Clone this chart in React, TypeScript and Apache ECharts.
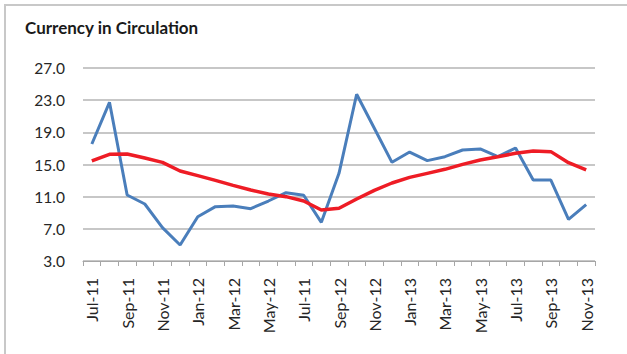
import React, { useEffect, useRef } from "react";
import * as echarts from "echarts";

const categories = [
  "Jul-11", "Aug-11", "Sep-11", "Oct-11", "Nov-11", "Dec-11",
  "Jan-12", "Feb-12", "Mar-12", "Apr-12", "May-12", "Jun-12",
  "Jul-11", "Aug-12", "Sep-12", "Oct-12", "Nov-12", "Dec-12",
  "Jan-13", "Feb-13", "Mar-13", "Apr-13", "May-13", "Jun-13",
  "Jul-13", "Aug-13", "Sep-13", "Oct-13", "Nov-13",
];

const currency = [
  17.55, 22.73, 11.21, 10.09, 7.15, 4.99,
  8.51, 9.76, 9.84, 9.51, 10.46, 11.5,
  11.17, 7.81, 13.9, 23.73, 19.5, 15.27,
  16.55, 15.48, 15.97, 16.8, 16.93, 15.97,
  17.05, 13.07, 13.07, 8.18, 10.0,
];

const trend = [
  15.44, 16.26, 16.3, 15.8, 15.27, 14.19,
  13.61, 13.03, 12.41, 11.83, 11.33, 11.0,
  10.46, 9.34, 9.55, 10.71, 11.79, 12.7,
  13.4, 13.9, 14.4, 15.02, 15.56, 15.97,
  16.39, 16.68, 16.6, 15.23, 14.32,
];

const title = "Currency in Circulation";

export default function App() {
  const ref = useRef<HTMLDivElement>(null);
  useEffect(() => {
    if (!ref.current) return;
    const chart = echarts.init(ref.current, undefined, { renderer: "svg" });
    chart.setOption({
      animation: false,
      backgroundColor: "#ffffff",
      textStyle: { fontFamily: "Lato" },
      graphic: [
        {
          type: "rect",
          shape: { x: 5, y: 5, width: 640, height: 360 },
          style: { fill: "none", stroke: "#c8c8c8", lineWidth: 2 },
          silent: true,
        },
        {
          type: "text",
          left: 25,
          top: 19,
          style: {
            text: title,
            fontFamily: "Lato",
            fontWeight: "bold",
            fontSize: 17,
            fill: "#1a1a1a",
          },
        },
      ],
      grid: { left: 83, right: 32, top: 68, bottom: 93 },
      xAxis: {
        type: "category",
        data: categories,
        boundaryGap: true,
        axisLine: { show: true, lineStyle: { color: "#a6a6a6", width: 1 } },
        axisTick: { show: true, interval: 0, length: 5, lineStyle: { color: "#a6a6a6" } },
        axisLabel: {
          interval: 1,
          rotate: 90,
          margin: 17,
          fontFamily: "Lato",
          fontSize: 16,
          color: "#262626",
        },
        splitLine: { show: false },
      },
      yAxis: {
        type: "value",
        min: 3,
        max: 27,
        interval: 4,
        axisLine: { show: false },
        axisTick: { show: false },
        axisLabel: {
          margin: 18,
          fontFamily: "Lato",
          fontSize: 15.5,
          color: "#262626",
          formatter: (v: number) => v.toFixed(1),
        },
        splitLine: { show: true, lineStyle: { color: "#b4b4b4", width: 1.5 } },
      },
      series: [
        {
          name: "Currency",
          type: "line",
          data: currency,
          symbol: "none",
          lineStyle: { color: "#4a7ebb", width: 3 },
          z: 2,
        },
        {
          name: "Trend",
          type: "line",
          data: trend,
          symbol: "none",
          lineStyle: { color: "#ee1c25", width: 3.5 },
          z: 3,
        },
      ],
    });
    return () => chart.dispose();
  }, []);
  return <div ref={ref} style={{ width: 627, height: 354, position: "absolute", left: 0, top: 0 }} />;
}
